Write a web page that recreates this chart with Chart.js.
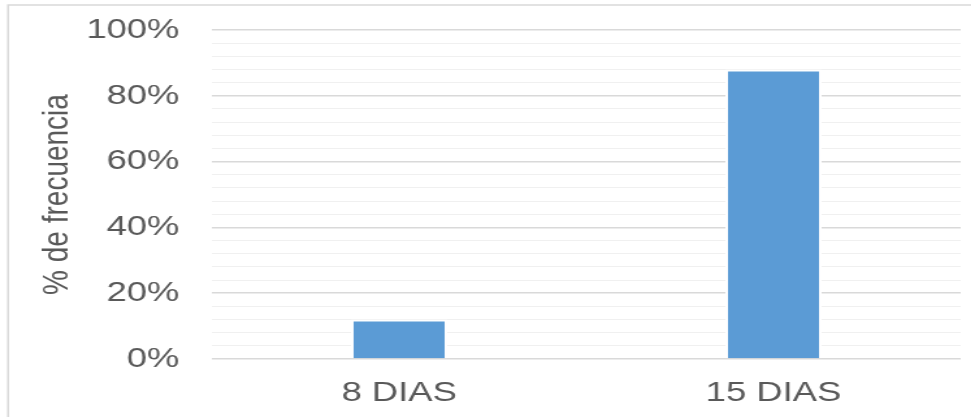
<!DOCTYPE html>
<html>
<head>
<meta charset="utf-8">
<script src="https://cdn.jsdelivr.net/npm/chart.js@4"></script>
<style>
  html, body { margin: 0; padding: 0; background: #fff; overflow: hidden; }
  /* the reference is stretched horizontally, so draw narrow and widen it */
  #wrap { position: absolute; left: 0; top: 0; width: 747px; height: 417px;
          transform: scaleX(1.3); transform-origin: 0 0; }
  #chart { display: block; }
</style>
</head>
<body>
<div id="wrap"><canvas id="chart" width="747" height="417" style="width:747px;height:417px"></canvas></div>
<script>
// Chart data
var categories = ['8 DIAS', '15 DIAS'];
var frecuencia = [12, 88];
var yTitle = '% de frecuencia';

var textColor = '#595959';
var fontFamily = '"Liberation Sans", Arial, sans-serif';

// light frame around the chart (only top and left edges are visible)
var framePlugin = {
    id: 'frame',
    beforeDraw: function(chart){
        var ctx = chart.ctx;
        ctx.save();
        ctx.strokeStyle = '#d9d9d9';
        ctx.lineWidth = 1.5;
        ctx.beginPath();
        ctx.moveTo(6.2, chart.height);
        ctx.lineTo(6.2, 5);
        ctx.lineTo(chart.width, 5);
        ctx.stroke();
        ctx.restore();
    }
};

var ctxChart = document.getElementById('chart');
var chart = new Chart(ctxChart, {
    type: 'bar',
    data: {
        labels: categories,
        datasets: [{
            data: frecuencia,
            backgroundColor: '#5b9bd5',
            borderColor: '#ffffff',
            borderWidth: 2,
            barPercentage: 0.257,
            categoryPercentage: 1
        }]
    },
    options: {
        responsive: false,
        animation: false,
        layout: { padding: { left: 27.4, right: 8, top: 30, bottom: 0 } },
        plugins: {
            legend: { display: false },
            tooltip: { enabled: false }
        },
        scales: {
            x: {
                grid: { display: false, drawTicks: false },
                border: { display: false },
                ticks: {
                    color: textColor,
                    padding: 17,
                    maxRotation: 0,
                    font: { family: fontFamily, size: 28 }
                },
                // fixed axis height so the plot ends where the reference does
                afterFit: function(s){ s.height = 58; }
            },
            y: {
                min: 0,
                max: 100,
                border: { display: false },
                grid: {
                    drawTicks: false,
                    color: function(c){ return c.tick && c.tick.value % 20 === 0 ? '#d9d9d9' : '#f0f0f0'; },
                    lineWidth: function(c){ return c.tick && c.tick.value % 20 === 0 ? 1.5 : 1; }
                },
                ticks: {
                    stepSize: 4,
                    autoSkip: false,
                    padding: 25,
                    color: textColor,
                    font: { family: fontFamily, size: 28 },
                    callback: function(v){ return v % 20 === 0 ? v + '%' : ''; }
                },
                title: {
                    display: true,
                    text: yTitle,
                    color: textColor,
                    padding: { top: 0, bottom: 0 },
                    font: { family: fontFamily, size: 28 }
                },
                afterFit: function(s){
                    s.width = 135.6;
                    s.paddingTop = 0;
                    s.paddingBottom = 0;
                }
            }
        }
    },
    plugins: [framePlugin]
});
</script>
</body>
</html>
